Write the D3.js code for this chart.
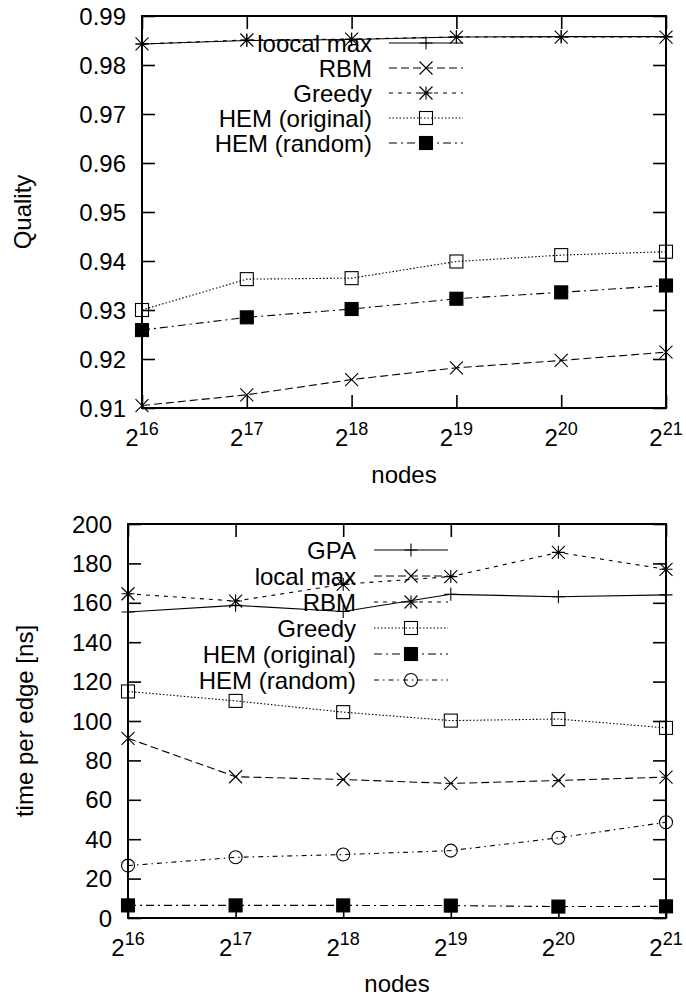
<!DOCTYPE html>
<html><head><meta charset="utf-8">
<script src="https://cdn.jsdelivr.net/npm/d3@7"></script>
<style>
body{margin:0;background:#fff}
svg{display:block}
text{font-family:"Liberation Sans",Arial,Helvetica,sans-serif;fill:#000}
</style>
</head><body>
<svg id="c" width="686" height="999"></svg>
<script>
// ---------- data ----------
const nodeExps = [16, 17, 18, 19, 20, 21];

// Quality (top panel)
const qualityTicks = [0.91, 0.92, 0.93, 0.94, 0.95, 0.96, 0.97, 0.98, 0.99];
const qLocalMax = [0.9843, 0.9850, 0.9852, 0.9857, 0.9858, 0.9858];
const qRBM      = [0.9105, 0.9127, 0.9158, 0.9182, 0.9197, 0.9214];
const qGreedy   = [0.9843, 0.9851, 0.9853, 0.9857, 0.9857, 0.9857];
const qHEMorig  = [0.9300, 0.9363, 0.9365, 0.9399, 0.9412, 0.9419];
const qHEMrand  = [0.9259, 0.9285, 0.9302, 0.9323, 0.9336, 0.9350];

// Time per edge [ns] (bottom panel)
const timeTicks = [0, 20, 40, 60, 80, 100, 120, 140, 160, 180, 200];
const tGPA      = [155.3, 158.7, 155.6, 164.3, 163.1, 164.0];
const tLocalMax = [91.2, 71.7, 70.3, 68.3, 69.8, 71.5];
const tRBM      = [164.6, 160.9, 169.4, 173.3, 185.6, 177.0];
const tGreedy   = [115.0, 110.2, 104.5, 100.2, 101.0, 96.5];
const tHEMorig  = [6.4, 6.4, 6.4, 6.3, 5.8, 5.9];
const tHEMrand  = [26.6, 30.8, 32.2, 34.2, 40.7, 48.6];

const qualityLabels = ["loocal max", "RBM", "Greedy", "HEM (original)", "HEM (random)"];
const timeLabels = ["GPA", "local max", "RBM", "Greedy", "HEM (original)", "HEM (random)"];

// ---------- drawing ----------
const svg = d3.select("#c");
const FS = 24;

function marker(g, type, cx, cy) {
  const h = 6.5;
  const st = {stroke: "#000", "stroke-width": 1.1, fill: "none"};
  let el;
  if (type === "plus") {
    el = g.append("path").attr("d", `M${cx-h},${cy}H${cx+h}M${cx},${cy-h}V${cy+h}`);
  } else if (type === "cross") {
    el = g.append("path").attr("d", `M${cx-h},${cy-h}L${cx+h},${cy+h}M${cx-h},${cy+h}L${cx+h},${cy-h}`);
  } else if (type === "star") {
    el = g.append("path").attr("d", `M${cx-h},${cy}H${cx+h}M${cx},${cy-h}V${cy+h}M${cx-h},${cy-h}L${cx+h},${cy+h}M${cx-h},${cy+h}L${cx+h},${cy-h}`);
  } else if (type === "square") {
    el = g.append("rect").attr("x", cx-h).attr("y", cy-h).attr("width", 2*h).attr("height", 2*h);
  } else if (type === "fsquare") {
    el = g.append("rect").attr("x", cx-h).attr("y", cy-h).attr("width", 2*h).attr("height", 2*h);
    st.fill = "#000";
  } else if (type === "circle") {
    el = g.append("circle").attr("cx", cx).attr("cy", cy).attr("r", h);
  }
  Object.entries(st).forEach(([k, v]) => el.attr(k, v));
}

function panel(cfg) {
  const g = svg.append("g");
  const x = d3.scaleLog().base(2).domain([2**16, 2**21]).range([cfg.left, cfg.right]);
  const y = d3.scaleLinear().domain(cfg.yDomain).range([cfg.bottom, cfg.top]);
  const xs = nodeExps.map(e => 2**e);

  // inner ticks on all four sides
  const tk = 13;
  g.append("g").attr("transform", `translate(${cfg.left},0)`)
    .call(d3.axisRight(y).tickValues(cfg.yTicks).tickSize(tk).tickFormat(""));
  g.append("g").attr("transform", `translate(${cfg.right},0)`)
    .call(d3.axisLeft(y).tickValues(cfg.yTicks).tickSize(tk).tickFormat(""));
  g.append("g").attr("transform", `translate(0,${cfg.bottom})`)
    .call(d3.axisTop(x).tickValues(xs).tickSize(tk).tickFormat(""));
  g.append("g").attr("transform", `translate(0,${cfg.top})`)
    .call(d3.axisBottom(x).tickValues(xs).tickSize(tk).tickFormat(""));
  g.selectAll(".domain").remove();
  g.selectAll(".tick line").attr("stroke", "#000").attr("stroke-width", 1.6);

  // y tick labels
  cfg.yTicks.forEach(v => {
    g.append("text").attr("x", cfg.left - 16).attr("y", y(v)).attr("dy", "0.36em")
      .attr("text-anchor", "end").attr("font-size", FS).text(cfg.yFmt(v));
  });
  // x tick labels 2^k
  nodeExps.forEach(e => {
    const t = g.append("text").attr("x", x(2**e)).attr("y", cfg.bottom + 38)
      .attr("text-anchor", "middle").attr("font-size", FS);
    t.append("tspan").text("2");
    t.append("tspan").attr("font-size", 18).attr("dy", -11).text(String(e));
  });

  // axis titles
  g.append("text").attr("transform", `translate(${cfg.yTitleX},${(cfg.top+cfg.bottom)/2}) rotate(-90)`)
    .attr("text-anchor", "middle").attr("font-size", FS).text(cfg.yTitle);
  g.append("text").attr("x", cfg.xTitleX).attr("y", cfg.xTitleY)
    .attr("text-anchor", "middle").attr("font-size", FS).text("nodes");

  // series
  const line = d3.line().x(d => x(d[0])).y(d => y(d[1]));
  cfg.series.forEach((s, i) => {
    const ly = cfg.legY0 + i * cfg.legStep;
    g.append("text").attr("x", cfg.legTextX).attr("y", ly).attr("dy", "0.36em")
      .attr("text-anchor", "end").attr("font-size", FS).text(s.label);
    g.append("line").attr("x1", cfg.legX1).attr("x2", cfg.legX2).attr("y1", ly).attr("y2", ly)
      .attr("stroke", "#000").attr("stroke-width", 1.1).attr("stroke-dasharray", s.dash);
    marker(g, s.mk, (cfg.legX1 + cfg.legX2) / 2, ly);

    const pts = xs.map((xv, j) => [xv, s.values[j]]);
    g.append("path").attr("d", line(pts)).attr("fill", "none")
      .attr("stroke", "#000").attr("stroke-width", 1.1).attr("stroke-dasharray", s.dash);
    pts.forEach(p => marker(g, s.mk, x(p[0]), y(p[1])));
  });

  // frame
  g.append("rect").attr("x", cfg.left).attr("y", cfg.top)
    .attr("width", cfg.right - cfg.left).attr("height", cfg.bottom - cfg.top)
    .attr("fill", "none").attr("stroke", "#000").attr("stroke-width", 2);
}

panel({
  left: 142, right: 666, top: 16, bottom: 408,
  yDomain: [0.91, 0.99], yTicks: qualityTicks, yFmt: d3.format(".2f"),
  yTitle: "Quality", yTitleX: 31, xTitleX: 404, xTitleY: 483,
  legTextX: 372, legX1: 389, legX2: 463, legY0: 43, legStep: 25,
  series: [
    {label: qualityLabels[0], values: qLocalMax, mk: "plus",    dash: null},
    {label: qualityLabels[1], values: qRBM,      mk: "cross",   dash: "8,4"},
    {label: qualityLabels[2], values: qGreedy,   mk: "star",    dash: "4,5"},
    {label: qualityLabels[3], values: qHEMorig,  mk: "square",  dash: "1.5,2"},
    {label: qualityLabels[4], values: qHEMrand,  mk: "fsquare", dash: "8,4,2,4"}
  ]
});

panel({
  left: 128, right: 666, top: 524, bottom: 918,
  yDomain: [0, 200], yTicks: timeTicks, yFmt: d3.format("d"),
  yTitle: "time per edge [ns]", yTitleX: 33, xTitleX: 397, xTitleY: 992,
  legTextX: 356, legX1: 374, legX2: 448, legY0: 550, legStep: 26,
  series: [
    {label: timeLabels[0], values: tGPA,      mk: "plus",    dash: null},
    {label: timeLabels[1], values: tLocalMax, mk: "cross",   dash: "8,4"},
    {label: timeLabels[2], values: tRBM,      mk: "star",    dash: "4,5"},
    {label: timeLabels[3], values: tGreedy,   mk: "square",  dash: "1.5,2"},
    {label: timeLabels[4], values: tHEMorig,  mk: "fsquare", dash: "8,4,2,4"},
    {label: timeLabels[5], values: tHEMrand,  mk: "circle",  dash: "5,4,1.5,4"}
  ]
});
</script>
</body></html>
